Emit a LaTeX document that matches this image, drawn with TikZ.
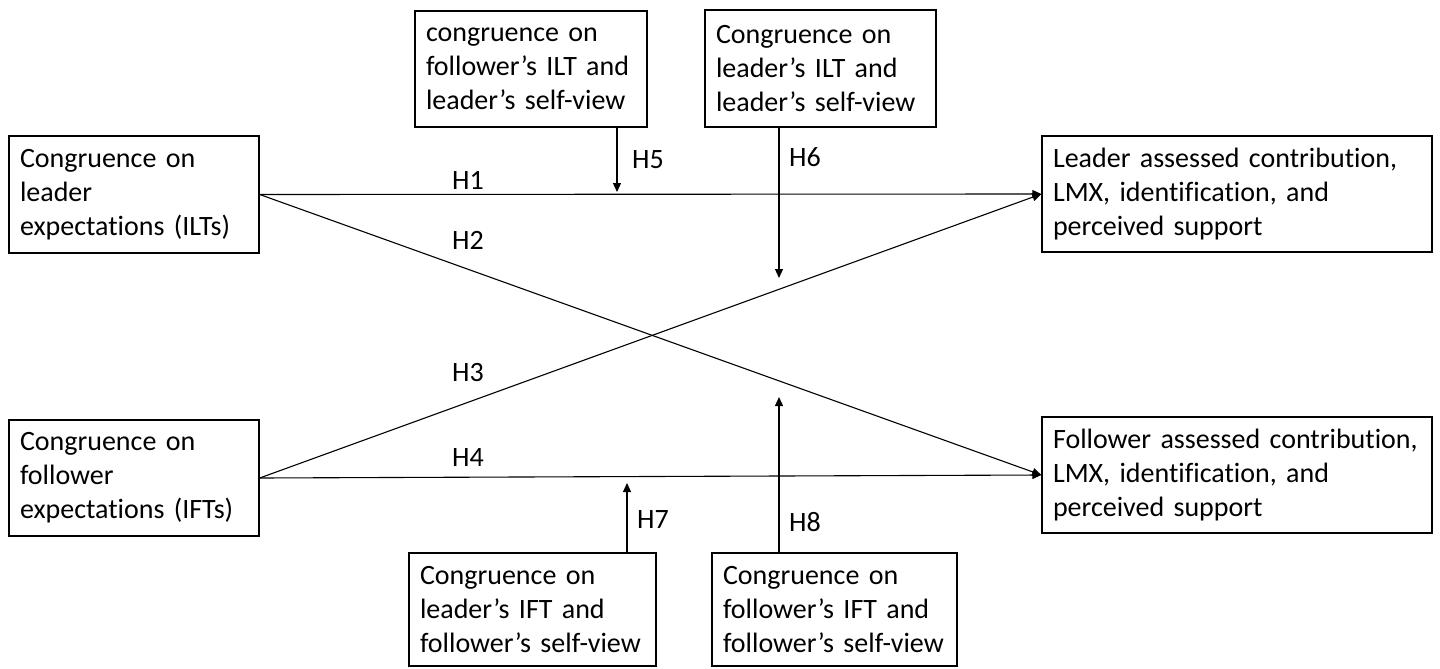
\documentclass[tikz,border=0pt]{standalone}
\usepackage{fontspec}
\setmainfont[Ligatures=NoCommon]{Carlito}
\usetikzlibrary{arrows.meta}
\tikzset{%
	box/.style={draw, line width=1.4pt, align=left, inner xsep=11pt, inner ysep=0pt,%
	minimum height=#1, font=\fontsize{28}{34}\selectfont}
}

\begin{document}
\begin{tikzpicture}[x=1pt, y=-1pt, path/.style={line width=1.1pt, -{Triangle[length=9pt,width=8pt]}},
	hyp/.style={font=\fontsize{28}{34}\selectfont, inner sep=0pt}]
				\useasboundingbox (0,0) rectangle (1440,669);
				\node [box=117pt, text width=228pt, name=ilt] at (134, 194.5) {Congruence on\\leader\\expectations (ILTs)};
				\node [box=116pt, text width=228pt, name=ift] at (134, 478) {Congruence on\\follower\\expectations (IFTs)};
				\node [box=116pt, text width=368pt, name=ldr] at (1237, 194) {Leader assessed contribution,\\LMX, identification, and\\perceived support};
				\node [box=116pt, text width=368pt, name=fol] at (1237, 475) {Follower assessed contribution,\\LMX, identification, and\\perceived support};
				\node [box=116pt, text width=210pt, name=mod5] at (531, 69) {congruence on\\follower’s ILT and\\leader’s self-view};
				\node [box=117pt, text width=209pt, name=mod6] at (820.5, 68.5) {Congruence on\\leader’s ILT and\\leader’s self-view};
				\node [box=113pt, text width=225pt, name=mod7] at (532.5, 609.5) {Congruence on\\leader’s IFT and\\follower’s self-view};
				\node [box=113pt, text width=223pt, name=mod8] at (834.5, 609.5) {Congruence on\\follower’s IFT and\\follower’s self-view};
				\coordinate (m5) at (617, 192);
				\coordinate (m6) at (779, 278);
				\coordinate (m7) at (627, 483);
				\coordinate (m8) at (779, 397);
				\node [hyp, name=h1] at (468, 180) {H1};
				\node [hyp, name=h2] at (468, 240) {H2};
				\node [hyp, name=h3] at (468, 373) {H3};
				\node [hyp, name=h4] at (468, 458) {H4};
				\node [hyp, name=h5] at (648, 160) {H5};
				\node [hyp, name=h6] at (805, 157) {H6};
				\node [hyp, name=h7] at (653, 520) {H7};
				\node [hyp, name=h8] at (805, 522) {H8};
				\draw [path] (ilt.east) -- (ldr.west);
				\draw [path] (ilt.east) -- (fol.west);
				\draw [path] (ift.east) -- (ldr.west);
				\draw [path] (ift.east) -- (fol.west);
				\draw [path] (mod5.south -| m5) -- (m5);
				\draw [path] (mod6.south -| m6) -- (m6);
				\draw [path] (mod7.north -| m7) -- (m7);
				\draw [path] (mod8.north -| m8) -- (m8);
			\end{tikzpicture}
\end{document}
